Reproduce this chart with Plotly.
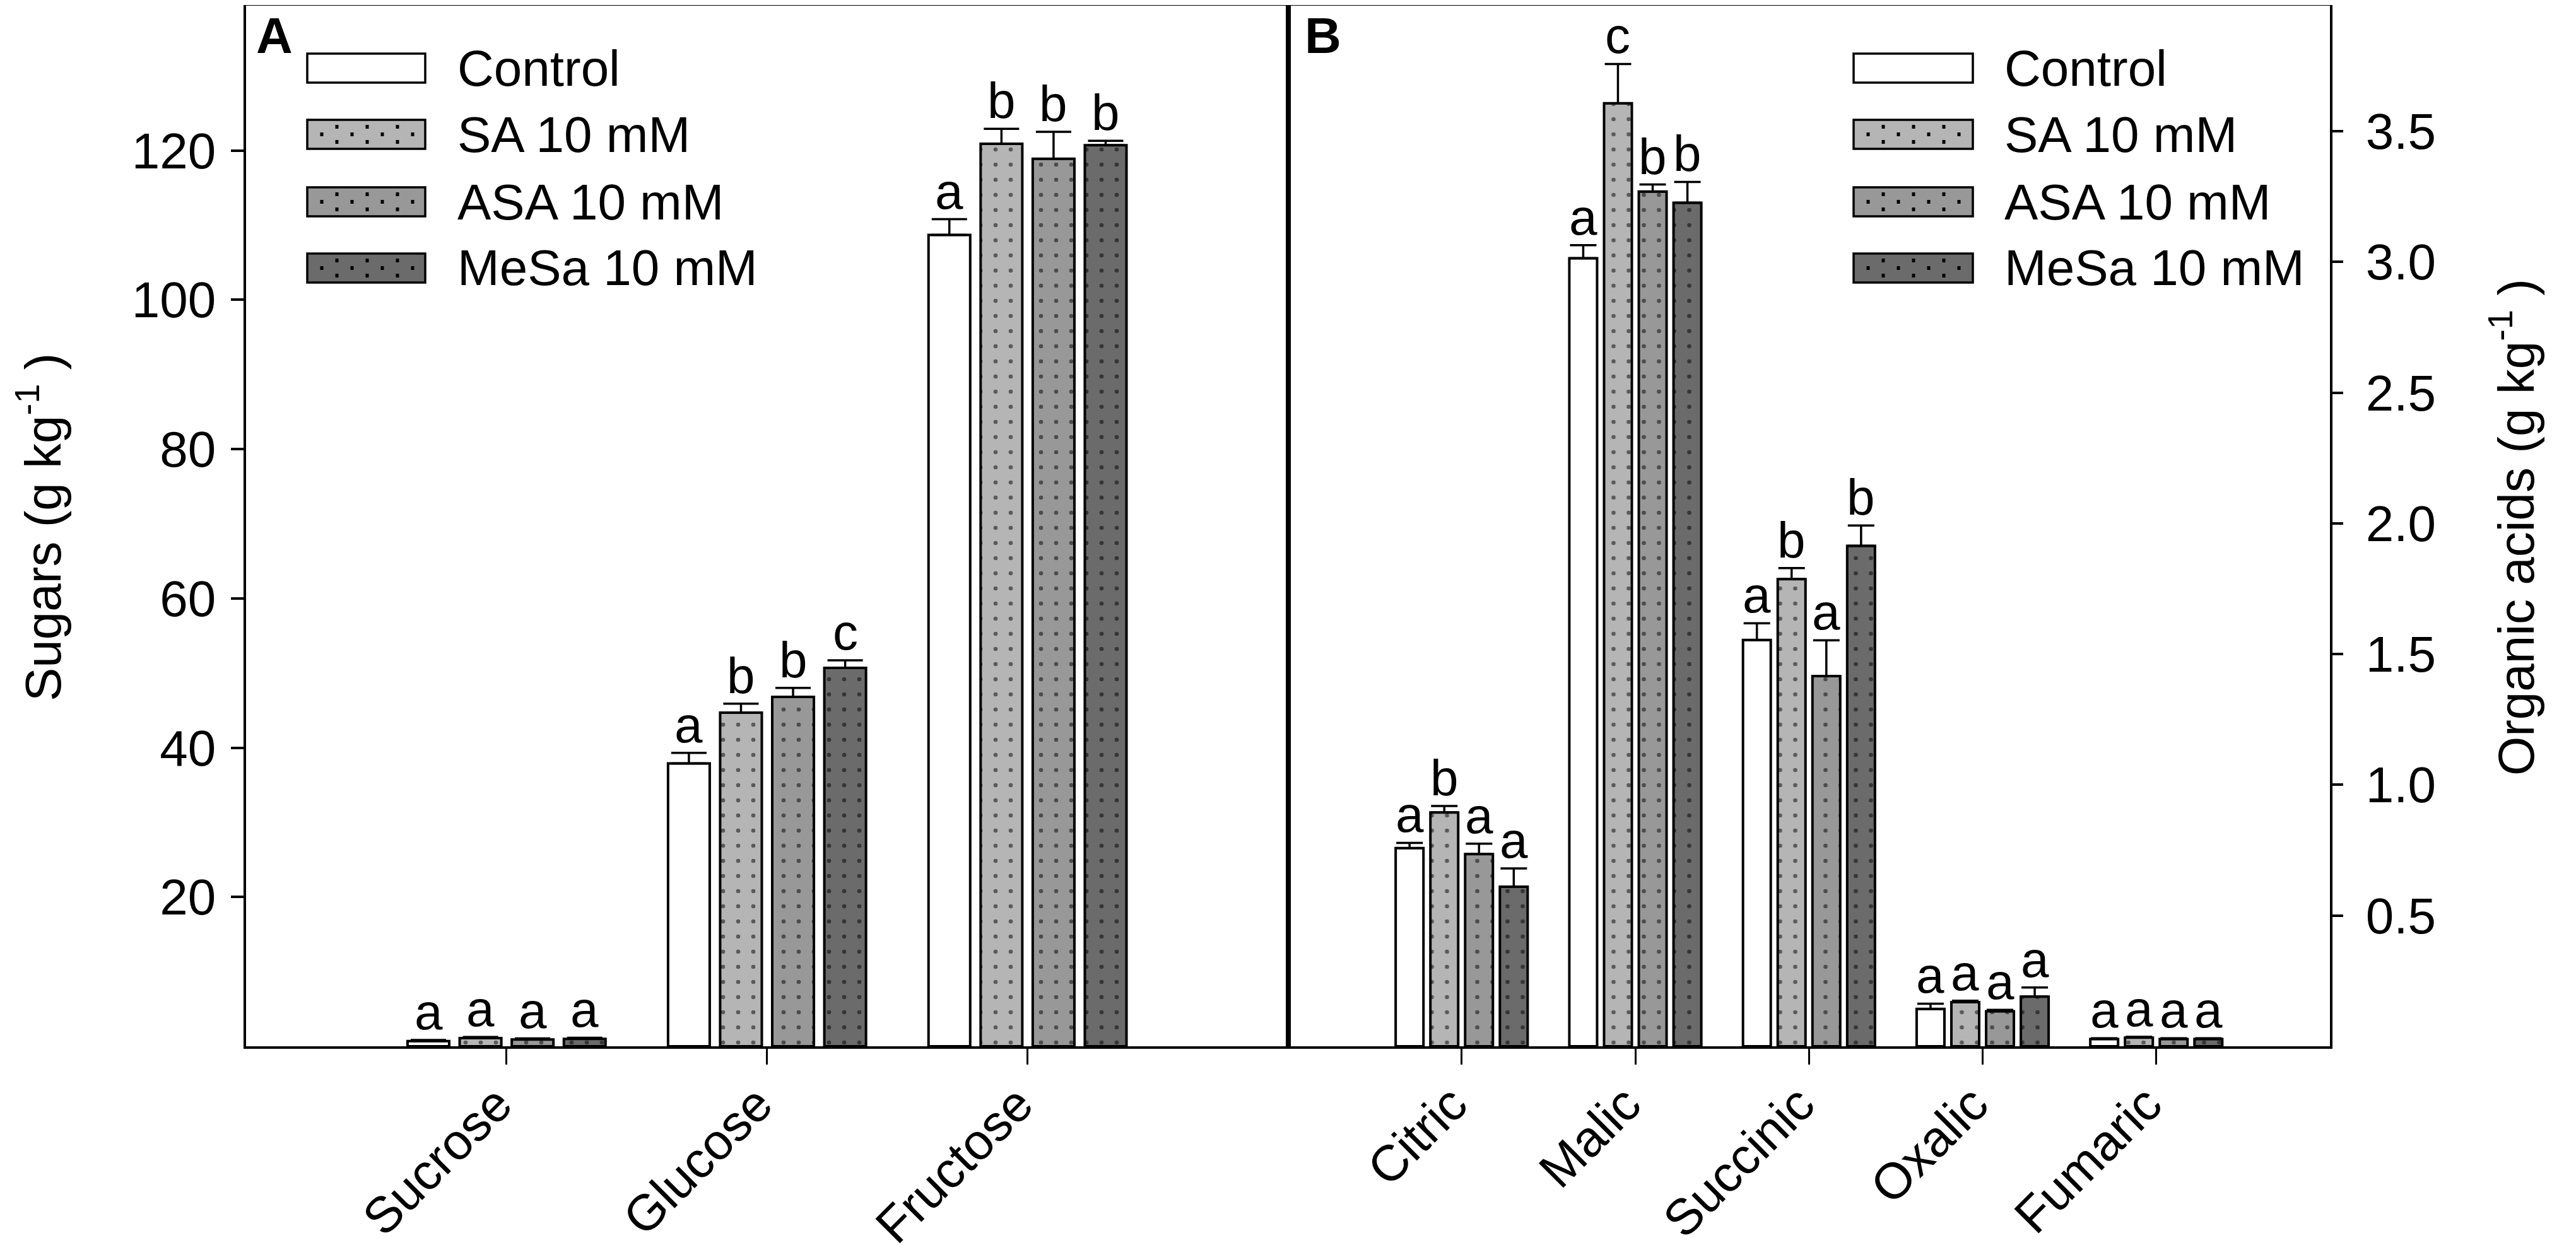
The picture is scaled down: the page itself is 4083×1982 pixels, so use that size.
import plotly.graph_objects as go

# treatments (legend order) and fills
treatments = ["Control", "SA 10 mM", "ASA 10 mM", "MeSa 10 mM"]
fills = ["#ffffff", "#b5b5b5", "#989898", "#6b6b6b"]
dots = ["", ".", ".", "."]

# panel A - sugars (g/kg)
sugars = ["Sucrose", "Glucose", "Fructose"]
sugar_control = [0.7, 37.9, 108.7]
sugar_sa = [1.1, 44.7, 120.9]
sugar_asa = [0.9, 46.8, 118.9]
sugar_mesa = [1.0, 50.7, 120.7]
sugar_control_se = [0.15, 1.4, 2.1]
sugar_sa_se = [0.15, 1.2, 2.0]
sugar_asa_se = [0.15, 1.2, 3.6]
sugar_mesa_se = [0.15, 1.0, 0.6]
sugar_control_let = ["a", "a", "a"]
sugar_sa_let = ["a", "b", "b"]
sugar_asa_let = ["a", "b", "b"]
sugar_mesa_let = ["a", "c", "b"]

# panel B - organic acids (g/kg)
acids = ["Citric", "Malic", "Succinic", "Oxalic", "Fumaric"]
acid_control = [0.758, 3.014, 1.554, 0.143, 0.028]
acid_sa = [0.894, 3.607, 1.787, 0.169, 0.033]
acid_asa = [0.735, 3.269, 1.416, 0.134, 0.028]
acid_mesa = [0.610, 3.226, 1.914, 0.190, 0.028]
acid_control_se = [0.02, 0.05, 0.064, 0.02, 0.003]
acid_sa_se = [0.025, 0.15, 0.042, 0.005, 0.003]
acid_asa_se = [0.04, 0.027, 0.137, 0.005, 0.003]
acid_mesa_se = [0.07, 0.08, 0.078, 0.035, 0.003]
acid_control_let = ["a", "a", "a", "a", "a"]
acid_sa_let = ["b", "c", "b", "a", "a"]
acid_asa_let = ["a", "b", "a", "a", "a"]
acid_mesa_let = ["a", "b", "b", "a", "a"]

sugar_tick_vals = [20, 40, 60, 80, 100, 120]
acid_tick_vals = [0.5, 1.0, 1.5, 2.0, 2.5, 3.0, 3.5]

# page is drawn with the browser's 8px body margin, so the figure is 8px smaller
PAGE = 8
W, H = 4083 - PAGE, 1982 - PAGE
ML, MR, MT, MB = 390 - PAGE, 390, 9 - PAGE, 323
FONT = "Liberation Sans, Arial, sans-serif"
FS = 80
BARGAP = 0.2


def px_x(px):
    # px measured on the page
    return (px - PAGE - ML) / (W - ML - MR)


def px_y(py):
    return (H - MB - (py - PAGE)) / (H - MT - MB)


sugar_sets = [
    (sugar_control, sugar_control_se, sugar_control_let),
    (sugar_sa, sugar_sa_se, sugar_sa_let),
    (sugar_asa, sugar_asa_se, sugar_asa_let),
    (sugar_mesa, sugar_mesa_se, sugar_mesa_let),
]
acid_sets = [
    (acid_control, acid_control_se, acid_control_let),
    (acid_sa, acid_sa_se, acid_sa_let),
    (acid_asa, acid_asa_se, acid_asa_let),
    (acid_mesa, acid_mesa_se, acid_mesa_let),
]

fig = go.Figure()
annotations = []


def add_panel(cats, sets, xa, ya, cap):
    slot = (1 - BARGAP) / len(sets)
    for j, (vals, se, lets) in enumerate(sets):
        fig.add_trace(go.Bar(
            x=cats, y=vals, name=treatments[j], showlegend=False,
            xaxis=xa, yaxis=ya,
            marker=dict(color=fills[j], line=dict(color="black", width=4),
                        pattern=dict(shape=dots[j], fgcolor="black", bgcolor=fills[j],
                                     size=24, solidity=0.06)),
            error_y=dict(type="data", array=se, arrayminus=[0] * len(se), symmetric=False,
                         color="black", thickness=3.5, width=cap),
        ))
        # significance letters sit on top of the error bar
        offset = -(1 - BARGAP) / 2 + slot * (j + 0.5)
        for i in range(len(cats)):
            annotations.append(dict(
                x=i + offset, y=vals[i] + se[i], xref=xa, yref=ya,
                text=lets[i], showarrow=False, yanchor="bottom", yshift=-2,
                font=dict(family=FONT, size=FS, color="black"),
            ))


add_panel(sugars, sugar_sets, "x", "y", 28)
add_panel(acids, acid_sets, "x2", "y2", 21)

axis_common = dict(
    showline=True, linecolor="black", linewidth=3.5, mirror=True, automargin=False,
    showgrid=False, zeroline=False, ticks="outside", tickcolor="black",
    tickfont=dict(family=FONT, size=FS, color="black"),
)

fig.update_layout(
    width=W, height=H,
    margin=dict(l=ML, r=MR, t=MT, b=MB, autoexpand=False),
    paper_bgcolor="white", plot_bgcolor="white",
    barmode="group", bargap=BARGAP, bargroupgap=0.2,
    font=dict(family=FONT, size=FS, color="black"),
    xaxis=dict(domain=[0, 0.5], anchor="y", range=[-1, 3], tickangle=-45,
               ticklen=25, tickwidth=3, ticklabelstandoff=-16, ticklabelshift=-15,
               **axis_common),
    yaxis=dict(domain=[0, 1], anchor="x", range=[0, 139.4], tickvals=sugar_tick_vals,
               ticklen=20, tickwidth=3.5, ticklabelstandoff=8, **axis_common),
    xaxis2=dict(domain=[0.5, 1], anchor="y2", range=[-1, 5], tickangle=-45,
                ticklen=25, tickwidth=3, ticklabelstandoff=-16, ticklabelshift=-15,
                **axis_common),
    yaxis2=dict(domain=[0, 1], anchor="x2", side="right", range=[0, 3.98],
                tickvals=acid_tick_vals, tickformat=".1f",
                ticklen=17, tickwidth=3.5, ticklabelstandoff=20, **axis_common),
)

# hand-drawn legends (big dotted swatches like the original)
shapes = []
legend_rows = [108, 213, 320, 425]
for box_left, box_right, text_left in [(487, 674, 723), (2938, 3127, 3175)]:
    for j, row in enumerate(legend_rows):
        shapes.append(dict(
            type="rect", xref="paper", yref="paper",
            x0=px_x(box_left), x1=px_x(box_right),
            y0=px_y(row + 23), y1=px_y(row - 23),
            fillcolor=fills[j], line=dict(color="black", width=3.5),
        ))
        if dots[j]:
            for dy, starts in [(-12, [47, 95, 143]), (0, [23, 71, 119, 167]), (12, [47, 95, 143])]:
                for dx in starts:
                    cx, cy = box_left + dx, row + dy
                    shapes.append(dict(
                        type="rect", xref="paper", yref="paper",
                        x0=px_x(cx - 2.5), x1=px_x(cx + 2.5),
                        y0=px_y(cy + 3), y1=px_y(cy - 3),
                        fillcolor="black", line=dict(width=0),
                    ))
        annotations.append(dict(
            x=px_x(text_left), y=px_y(row), xref="paper", yref="paper",
            text=treatments[j], showarrow=False, xanchor="left", yanchor="middle",
            font=dict(family=FONT, size=FS, color="black"),
        ))

# panel letters
annotations.append(dict(x=px_x(404), y=px_y(10), xref="paper", yref="paper", text="<b>A</b>",
                        showarrow=False, xanchor="left", yanchor="top",
                        font=dict(family=FONT, size=FS, color="black")))
annotations.append(dict(x=px_x(2066), y=px_y(10), xref="paper", yref="paper", text="<b>B</b>",
                        showarrow=False, xanchor="left", yanchor="top",
                        font=dict(family=FONT, size=FS, color="black")))

# axis titles
annotations.append(dict(x=px_x(62), y=px_y(836), xref="paper", yref="paper",
                        text="Sugars (g kg<sup>-1</sup> )", textangle=-90, showarrow=False,
                        xanchor="center", yanchor="middle",
                        font=dict(family=FONT, size=FS, color="black")))
annotations.append(dict(x=px_x(3982), y=px_y(836), xref="paper", yref="paper",
                        text="Organic acids (g kg<sup>-1</sup> )", textangle=-90, showarrow=False,
                        xanchor="center", yanchor="middle",
                        font=dict(family=FONT, size=FS, color="black")))

fig.update_layout(shapes=shapes, annotations=annotations)

fig.write_html("out.html")
